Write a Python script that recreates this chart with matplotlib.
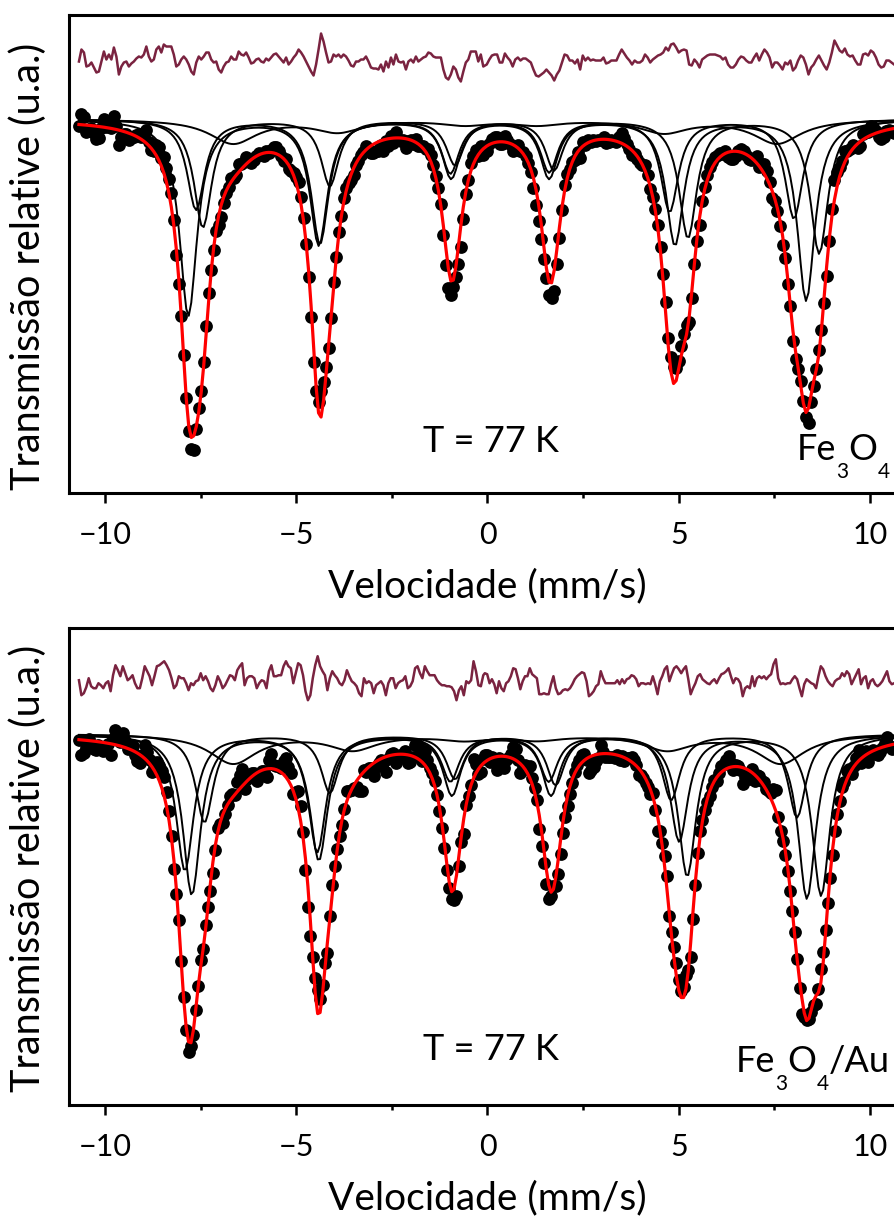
import numpy as np
import matplotlib
matplotlib.use("Agg")
import matplotlib.pyplot as plt
from matplotlib.ticker import MultipleLocator

plt.rcParams["font.family"] = ["Lato", "DejaVu Sans"]

# ---------------------------------------------------------------------------
# Data (relative transmission; residuals and depths in units of 1e-3)
# Residuals are stored in two halves, each spread evenly over its own
# velocity span (mm/s).
# ---------------------------------------------------------------------------
SPAN_LEFT = (-10.68, -0.11)
SPAN_RIGHT_FE3O4 = (-0.02, 10.63)
SPAN_RIGHT_FE3O4_AU = (-0.07, 10.63)

RESID_FE3O4_LEFT = [
    -2, 10, 7, -7, -6, -3, -8, -13, -12, -2, 8, 0, 5, 0, 12, 3, -15, -7, -3, -2,
    -7, -4, -2, 1, 3, 2, 5, 13, 3, -2, 0, 10, 13, 7, 15, 13, 13, 13, 5, -7,
    -5, 0, 3, 0, -5, -12, -15, -3, 3, 0, 3, 7, 7, 0, -3, -2, -10, -13, -7, -3,
    -2, 3, 0, 0, 8, 5, 4, 7, 2, -4, -3, 0, 1, -2, -3, 1, -1, 2, 5, 6,
    3, 0, -3, 2, -5, -2, 2, 5, 10, 7, 3, -2, -7, -12, -16, -5, 10, 26, 18, 7,
    -3, -2, 5, 3, 5, 2, 5, 3, -1, -6, -7, -2, -2, 0, 0, 3, -2, -8, -9, -9,
    -10, -5, -12, -2, -8, 2, -5, 5, -2, -3, -2, -10, -2, 0, -3, 3, -2, 0, 2, 3,
    7, 6, 3, 2, 2, 2, -10, -18, -20, -15, -7, -10, -18, -22, -12, -3, 0, 8, 8, 8,
    -2, 5, -7,
]
RESID_FE3O4_RIGHT = [
    -5, 0, 4, 5, 5, -3, -3, 6, 2, -1, -7, 0, 2, -1, 1, 1, -1, -3, -10, -16,
    -17, -15, -13, -10, -13, -16, -21, -15, -11, -3, 5, 4, -1, -1, -4, 0, -10, 4, -1, 2,
    -1, 0, -1, -1, -1, 2, -4, -3, -1, -1, -1, 5, 10, 6, 2, -1, -5, -1, -3, -3,
    -1, 5, 2, -3, 0, 2, 4, 5, 7, 12, 9, 15, 16, 12, 7, 9, 10, 9, -5, -6,
    0, -3, -8, 0, 2, 4, 5, 5, 5, 4, 3, 0, 2, -5, -8, -8, -5, 0, 3, 2,
    -1, -3, -3, 2, 6, -1, 5, 10, 7, 2, -8, -3, -3, -6, -10, -3, -5, -1, -11, -8,
    -1, 4, 2, -5, -15, -8, -5, 0, 4, -1, -6, -10, -3, 7, 19, 14, 9, 7, 11, 5,
    3, 4, -1, -5, -5, 5, 6, 4, 9, 7, 2, -5, -8, -7, -1, -1, -3, -5,
]

RESID_FE3O4_AU_LEFT = [
    3, -12, -10, -4, 5, -3, -5, -5, 0, -2, -5, 0, 2, -8, 8, 18, 13, 7, 17, 10,
    3, 5, 8, 0, -5, -5, 5, 17, 12, 7, -2, 7, 17, 18, 20, 22, 18, 13, 5, -5,
    -2, 7, 5, 5, 0, -7, 0, -2, 2, 3, 10, 3, 7, 2, -5, -8, -2, 7, 2, -5,
    -2, 3, 8, 7, 3, 13, 17, 20, -2, 5, 7, 7, 5, -5, 0, 3, 2, -5, 12, 18,
    7, 7, 8, 8, 17, 22, 17, 15, 0, 10, 20, 18, 8, -8, -17, -12, 5, 18, 27, 17,
    12, 8, -7, 5, 12, 8, 5, 0, -2, 3, 13, 7, 2, 0, -3, -10, -13, 5, 0, 2,
    0, -10, -2, 0, 2, -2, -12, 0, 5, 5, -5, 0, 2, 3, 7, -5, -3, 2, 15, 17,
    10, 5, 17, 12, 8, 8, 8, 3, 0, -2, -2, -3, -3, -4, -8, -17, -7, -3, -12, 2,
    0, 3, 22, 12, -2, -3, 8,
]
RESID_FE3O4_AU_RIGHT = [
    10, 9, 0, 4, -1, -10, 2, -5, -8, 0, 2, 7, 15, 14, 5, -6, 2, 7, 7, 15,
    9, 7, 5, -11, -11, -10, -11, -11, -1, 7, -5, -11, -10, -7, -6, -7, -5, -1, 4, 7,
    9, 11, 10, 2, -13, -11, -8, -3, -1, 12, 5, 0, 0, 0, 0, 0, 3, -1, 4, 0,
    4, 5, 8, 7, 4, -3, 0, 0, -1, 0, -1, 7, -1, -11, 2, 7, 14, 17, 2, 9,
    15, 17, 14, 10, 14, 17, 4, -11, -5, 0, 7, 9, 4, 2, 0, -1, 2, 4, 0, 5,
    9, 10, 12, 15, 7, 0, 5, 4, 0, -13, -5, -3, -5, 7, -3, 5, 7, 5, 7, 4,
    7, 9, 19, 24, 5, -1, 0, -1, 0, 0, 4, 7, 4, -5, -13, -1, 4, 2, 0, -1,
    -5, 7, 17, 14, 7, 2, -1, -3, 2, 4, 5, 10, 7, 12, 9, -1, 4, 9, 14, -1,
    5, 7, -5, 2, 4, -1, -3, -1, 2, 7, 12, 2, -1, 0,
]

# subspectra: six line positions (mm/s), six line depths (1e-3), FWHM (mm/s)
FE3O4_POS = [
    [-7.82, -4.41, -0.95, 1.61, 4.90, 8.33],
    [-7.44, -4.12, -0.85, 1.74, 5.24, 8.67],
    [-7.62, -4.38, -0.97, 1.61, 4.76, 8.01],
    [-6.65, -3.91, -0.60, 1.30, 4.61, 7.57],
]
FE3O4_DEPTH = [
    [196, 125, 58, 58, 125, 181],
    [108, 66, 45, 50, 118, 134],
    [90, 124, 53, 52, 92, 99],
    [24, 12, 5, 5, 13, 24],
]
FE3O4_WIDTH = [0.56, 0.56, 0.56, 1.5]

FE3O4_AU_POS = [
    [-7.73, -4.41, -0.93, 1.66, 5.01, 8.35],
    [-7.91, -4.45, -0.97, 1.60, 5.22, 8.72],
    [-7.40, -4.12, -0.85, 1.78, 4.80, 8.09],
    [-6.65, -3.52, -0.60, 1.30, 4.69, 7.67],
]
FE3O4_AU_DEPTH = [
    [160, 125, 60, 60, 106, 164],
    [136, 117, 46, 46, 141, 161],
    [88, 58, 44, 50, 65, 83],
    [29, 15, 5, 5, 15, 29],
]
FE3O4_AU_WIDTH = [0.56, 0.56, 0.56, 1.5]

LABEL_TEMP = "T = 77 K"
# (text, is_subscript)
SAMPLE_FE3O4 = [("Fe", False), ("3", True), ("O", False), ("4", True)]
SAMPLE_FE3O4_AU = SAMPLE_FE3O4 + [("/Au", False)]


def lorentz(v, center, depth, fwhm):
    return depth / (1.0 + ((v - center) / (fwhm / 2.0)) ** 2)


def subspectra(v, pos, depth, width):
    out = []
    for p, d, w in zip(pos, depth, width):
        absorb = sum(lorentz(v, c, a, w) for c, a in zip(p, d))
        out.append(absorb * 1e-3)
    return out


def channels(left, right, span_right):
    v = np.concatenate([np.linspace(*SPAN_LEFT, len(left)),
                        np.linspace(*span_right, len(right))])
    r = np.asarray(left + right, dtype=float)
    return v, (r - r.mean()) * 1e-3


def chem_label(ax, x, y, parts, size=26, subsize=15, drop=13):
    prev = ax.text(x, y, parts[0][0], fontsize=size, ha="left", va="baseline")
    for txt, sub in parts[1:]:
        prev = ax.annotate(txt, xy=(1, y), xycoords=(prev, "data"),
                           xytext=(0, -drop if sub else 0),
                           textcoords="offset points",
                           fontsize=subsize if sub else size,
                           ha="left", va="baseline")


def draw_panel(ax, v, r, pos, depth, width, res_offset, ylim, sample,
               ty, sx, sy):
    subs = subspectra(v, pos, depth, width)
    fit = 1.0 - np.sum(subs, axis=0)
    data = fit + r

    ax.plot(v, res_offset + r, color="#7a2340", lw=1.8, zorder=2)
    ax.plot(v, data, "o", color="black", ms=9.2, mew=0, zorder=3)
    for s in subs:
        ax.plot(v, 1.0 - s, color="black", lw=1.4, zorder=4)
    ax.plot(v, fit, color="#ff0000", lw=2.3, zorder=5)

    ax.set_xlim(-10.94, 10.94)
    ax.set_ylim(*ylim)
    ax.set_yticks([])
    ax.xaxis.set_major_locator(MultipleLocator(5))
    ax.xaxis.set_minor_locator(MultipleLocator(2.5))
    ax.tick_params(axis="x", which="major", direction="out", length=7,
                   width=1.8, labelsize=22, pad=13)
    ax.tick_params(axis="x", which="minor", direction="out", length=3.5,
                   width=1.8)
    for sp in ax.spines.values():
        sp.set_linewidth(2.2)
    ax.set_xlabel("Velocidade (mm/s)", fontsize=28, labelpad=14)
    ax.text(0.1, ty, LABEL_TEMP, fontsize=26, ha="center", va="baseline")
    chem_label(ax, sx, sy, sample)


fig = plt.figure(figsize=(8.94, 12.17), dpi=100)
ax1 = fig.add_axes([69 / 894, 1 - 493 / 1217, 837 / 894, 478 / 1217])
ax2 = fig.add_axes([69 / 894, 1 - 1105 / 1217, 837 / 894, 477 / 1217])

v1, r1 = channels(RESID_FE3O4_LEFT, RESID_FE3O4_RIGHT, SPAN_RIGHT_FE3O4)
v2, r2 = channels(RESID_FE3O4_AU_LEFT, RESID_FE3O4_AU_RIGHT,
                  SPAN_RIGHT_FE3O4_AU)

draw_panel(ax1, v1, r1, FE3O4_POS, FE3O4_DEPTH, FE3O4_WIDTH,
           1.059, (0.626, 1.104), SAMPLE_FE3O4, 0.667, 8.09, 0.659)
draw_panel(ax2, v2, r2, FE3O4_AU_POS, FE3O4_AU_DEPTH, FE3O4_AU_WIDTH,
           1.054, (0.629, 1.106), SAMPLE_FE3O4_AU, 0.674, 6.50, 0.662)

fig.text(28 / 894, 1 - 266 / 1217, "Transmissão relative (u.a.)",
         rotation=90, fontsize=28.5, ha="center", va="center")
fig.text(28 / 894, 1 - 868 / 1217, "Transmissão relative (u.a.)",
         rotation=90, fontsize=28.5, ha="center", va="center")

fig.savefig("out.png", dpi=100)
